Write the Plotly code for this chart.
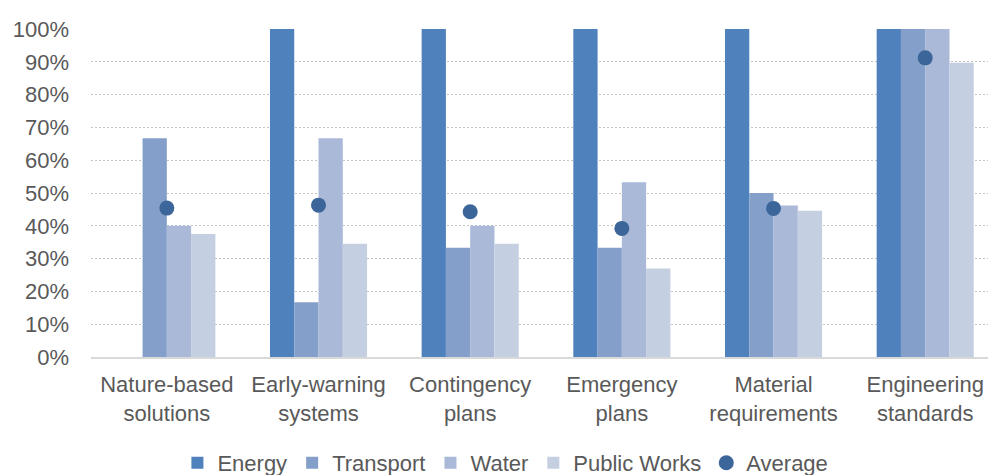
import plotly.graph_objects as go

categories = [
    "Nature-based<br>solutions",
    "Early-warning<br>systems",
    "Contingency<br>plans",
    "Emergency<br>plans",
    "Material<br>requirements",
    "Engineering<br>standards",
]

energy = [0.0, 1.0, 1.0, 1.0, 1.0, 1.0]
transport = [0.667, 0.167, 0.333, 0.333, 0.50, 1.0]
water = [0.40, 0.667, 0.40, 0.533, 0.462, 1.0]
public_works = [0.375, 0.345, 0.345, 0.27, 0.446, 0.897]
average = [0.454, 0.463, 0.443, 0.392, 0.453, 0.912]

y_ticks = [i / 10 for i in range(11)]
y_tick_text = [f"{i * 10}%" for i in range(11)]

series = [
    ("Energy", energy, "#4F81BD"),
    ("Transport", transport, "#84A0CA"),
    ("Water", water, "#A9B9D7"),
    ("Public Works", public_works, "#C4CFE2"),
]

FONT = "Liberation Sans, Arial, sans-serif"
TEXT = "#595959"
FS = 22

fig = go.Figure()
for name, vals, color in series:
    fig.add_trace(go.Bar(
        x=list(range(len(categories))), y=vals, name=name,
        marker=dict(color=color, line=dict(width=0)),
    ))

fig.add_trace(go.Scatter(
    x=list(range(len(categories))), y=average, name="Average", mode="markers",
    marker=dict(color="#3C6699", size=15, line=dict(width=0)),
))

fig.update_layout(
    width=988, height=475,
    margin=dict(l=91, r=0, t=29, b=118, autoexpand=False),
    plot_bgcolor="white", paper_bgcolor="white",
    barmode="group", bargap=0.36, bargroupgap=0,
    font=dict(family=FONT, size=FS, color=TEXT),
    legend=dict(
        orientation="h", x=0.462, xanchor="center", y=-0.323, yanchor="middle",
        font=dict(size=FS, color=TEXT), itemwidth=30,
        traceorder="normal",
    ),
    xaxis=dict(
        tickmode="array", tickvals=list(range(len(categories))), ticktext=categories,
        range=[-0.5, 5.414], showgrid=False, showline=True, linecolor="#D9D9D9",
        linewidth=2, ticks="", tickfont=dict(size=FS, color=TEXT), zeroline=False,
        ticklabelstandoff=7, automargin=False,
    ),
    yaxis=dict(
        range=[0, 1.0], tickmode="array", tickvals=y_ticks, ticktext=y_tick_text,
        showgrid=True, gridcolor="#C4C4C4", gridwidth=1, griddash="2px,2px",
        zeroline=False, ticks="", tickfont=dict(size=FS, color=TEXT),
        ticklabelstandoff=21, automargin=False,
    ),
)

fig.write_html("out.html")
